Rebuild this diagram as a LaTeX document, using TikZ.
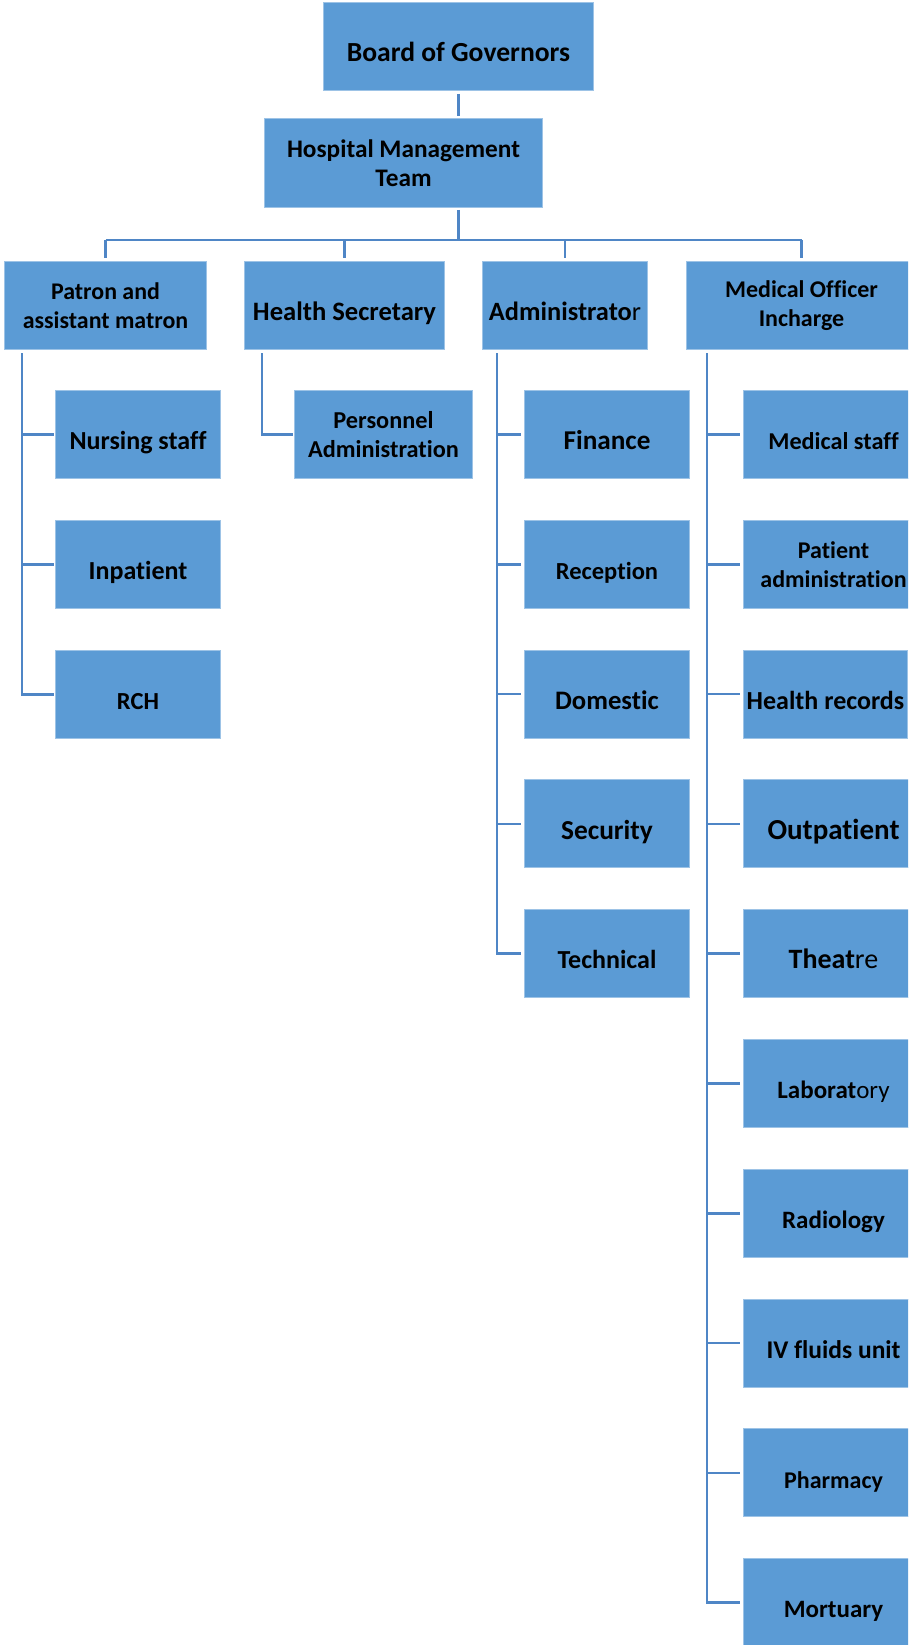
\documentclass[tikz,border=0pt]{standalone}
\usepackage{fontspec}
\setmainfont{Carlito}[Ligatures=NoCommon]
\definecolor{BoxBlue}{HTML}{5B9BD5}
\definecolor{EdgeBlue}{HTML}{9DC3E6}
\definecolor{LinkBlue}{HTML}{4F86C6}
\usetikzlibrary{positioning, calc}

\begin{document}
\begin{tikzpicture}[x=1pt, y=-1pt,
    box/.style={draw=EdgeBlue, line width=1pt, fill=BoxBlue, anchor=north west,
        inner sep=0pt, align=center, minimum height=88},
    txt/.style={font=\bfseries\fontsize{#1}{29}\selectfont},
    oneline/.style={text height=30.5pt, text depth=0pt},
    link/.style={draw=LinkBlue, line width=2.6pt}]

    \useasboundingbox (0,0) rectangle (908,1645);
    \clip (0,0) rectangle (908,1645);

    % top of the chart
    \node[box, oneline, txt=27.6, minimum width=270] (board) at (323,2) {Board of Governors};
    \node[box, txt=25.3, minimum width=278, minimum height=89] (hmt) at (264,118)
        {Hospital Management\\Team};

    % second level
    \node[box, txt=23.9, minimum width=202] (patron) at (4,261) {Patron and\\assistant matron};
    \node[box, oneline, txt=26.6, minimum width=200] (hsec) at (244,261) {Health Secretary};
    \node[box, oneline, txt=26.4, minimum width=165] (admin) at (482,261) {Administrato{\mdseries r}};
    \node[box, txt=24, minimum width=230] (medo) at (686,261) {Medical Officer\\Incharge};

    \coordinate (bus) at (0,240);

    % links from the top
    \draw[link, shorten <=3pt, shorten >=2pt] (board.south) -- (board.south |- hmt.north);
    \draw[link, shorten <=2pt] (board.south |- hmt.south) -- (board.south |- bus);
    \draw[link] (patron.north |- bus) -- (medo.north |- bus);
    \foreach \n in {patron,hsec,admin,medo}
        \draw[link, shorten >=3pt] (\n.north |- bus) -- (\n.north);

    % patron column
    \node[box, oneline, txt=26, minimum width=165] (nurse) at (55,390) {Nursing staff};
    \node[box, oneline, txt=26, minimum width=165] (inpat) at (55,520) {Inpatient};
    \node[box, oneline, txt=24.5, minimum width=165] (rch) at (55,650) {RCH};
    \coordinate (pspine) at (22,353);
    \foreach \n in {nurse,inpat}
        \draw[link, shorten >=1pt] (pspine |- \n.west) -- (\n.west);
    \draw[link, shorten >=1pt] (pspine) |- (rch.west);

    % health secretary column
    \node[box, txt=24.3, minimum width=178] (pers) at (294,390) {Personnel\\Administration};
    \coordinate (hspine) at (262,353);
    \draw[link, shorten >=1pt] (hspine) |- (pers.west);

    % administrator column
    \foreach \n/\t/\s [count=\i from 0] in {fin/Finance/27.2,recep/Reception/24.5,
            dom/Domestic/26.7,sec/Security/27.4,tech/Technical/26}
        \node[box, oneline, txt=\s, minimum width=165] (\n) at (524,{390+129.8*\i}) {\t};
    \coordinate (aspine) at (497,353);
    \foreach \n in {fin,recep,dom,sec}
        \draw[link, shorten >=3pt] (aspine |- \n.west) -- (\n.west);
    \draw[link, shorten >=3pt] (aspine) |- (tech.west);

    % medical officer column
    \foreach \n/\t/\s [count=\i from 0] in {mstaff/Medical staff/24.2,hrec/Health records/26,
            outp/Outpatient/29,theat/{Theat{\mdseries re}}/28,lab/{Laborat{\mdseries ory}}/25,
            rad/Radiology/25,ivf/IV fluids unit/25.5,phar/Pharmacy/24,mort/Mortuary/25}
        \node[box, oneline, txt=\s, minimum width={ifthenelse(\i==1,164,180)}]
            (\n) at (743,{390+129.8*(\i+ifthenelse(\i>0,1,0))}) {\t};
    \node[box, txt=24, minimum width=180] (padm) at (743,519.8) {Patient\\administration};
    \coordinate (mspine) at (707,353);
    \foreach \n in {mstaff,padm,hrec,outp,theat,lab,rad,ivf,phar}
        \draw[link, shorten >=3pt] (mspine |- \n.west) -- (\n.west);
    \draw[link, shorten >=3pt] (mspine) |- (mort.west);

\end{tikzpicture}
\end{document}
